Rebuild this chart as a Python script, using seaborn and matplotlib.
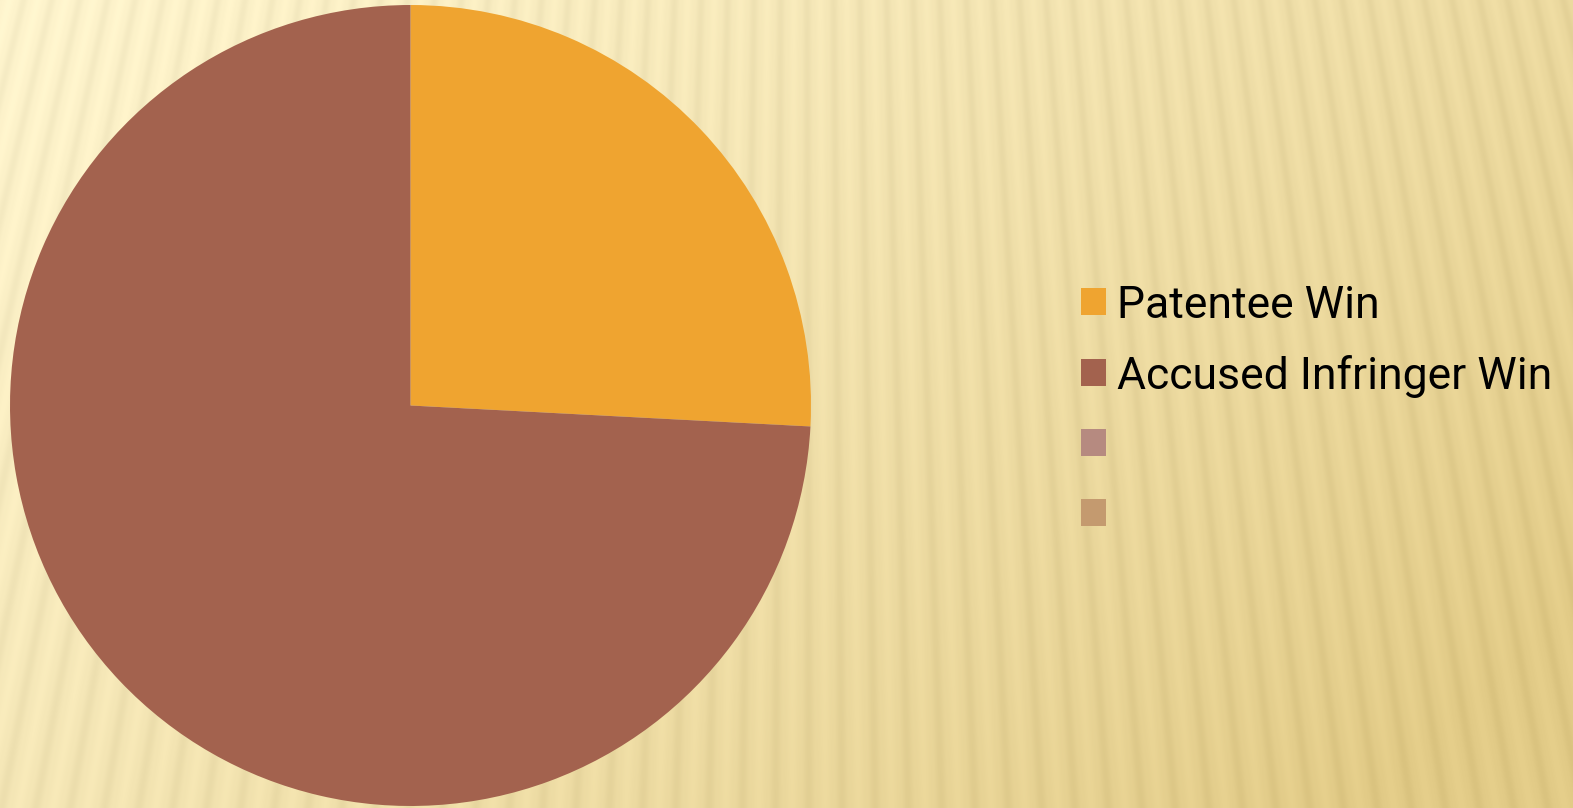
import numpy as np
import matplotlib
matplotlib.use("Agg")
import matplotlib.pyplot as plt
from matplotlib.patches import Patch
import seaborn as sns

# Outcome shares
categories = ["Patentee Win", "Accused Infringer Win", "", ""]
values = [31, 89, 0, 0]
colors = ["#EFA430", "#A3624E", "#B68A80", "#C49A6F"]

sns.set_theme(style="white")
plt.rcParams["font.family"] = ["Roboto", "DejaVu Sans"]

W, H, DPI = 1573, 808, 100
fig = plt.figure(figsize=(W / DPI, H / DPI), dpi=DPI)

# Warm striped backdrop: diagonal gradient plus a soft fan of stripes
bg_ax = fig.add_axes([0, 0, 1, 1], zorder=0)
yy, xx = np.mgrid[0:H, 0:W].astype(float)
t = np.clip((xx / W) * 0.7 + (yy / H) * 0.4, 0, 1) ** 1.2
c0 = np.array([254, 244, 205]) / 255.0
c1 = np.array([226, 203, 135]) / 255.0
img = c0[None, None, :] * (1 - t[..., None]) + c1[None, None, :] * t[..., None]
theta = np.arctan2(xx - 800.0, yy + 3200.0)
phase = theta * 3500.0 / 29.0 * 2 * np.pi
s = np.sin(phase)
img = img - 0.03 * (np.clip(s, 0, 1) ** 2)[..., None] + 0.015 * (np.clip(-s, 0, 1) ** 2)[..., None]
img = np.clip(img, 0, 1)
bg_ax.imshow(img, aspect="auto", extent=[0, W, H, 0])
bg_ax.set_axis_off()

# Pie
ax = fig.add_axes([10 / W, 2 / H, 801 / W, 801 / H], zorder=1)
ax.pie(values, colors=colors, startangle=90, counterclock=False,
       radius=1.0, wedgeprops=dict(linewidth=0))
ax.set_xlim(-1, 1)
ax.set_ylim(-1, 1)
ax.set_aspect("equal")
ax.set_axis_off()

handles = [Patch(facecolor=c, edgecolor="none") for c in colors]
leg = fig.legend(handles, categories, loc="center left",
                 bbox_to_anchor=(1081 / W, 1 - 411 / H),
                 frameon=False, fontsize=32, handlelength=0.56,
                 handleheight=0.56, handletextpad=0.25, labelspacing=0.63,
                 borderaxespad=0, borderpad=0)
for txt in leg.get_texts():
    txt.set_color("black")

fig.savefig("out.png", dpi=DPI)
